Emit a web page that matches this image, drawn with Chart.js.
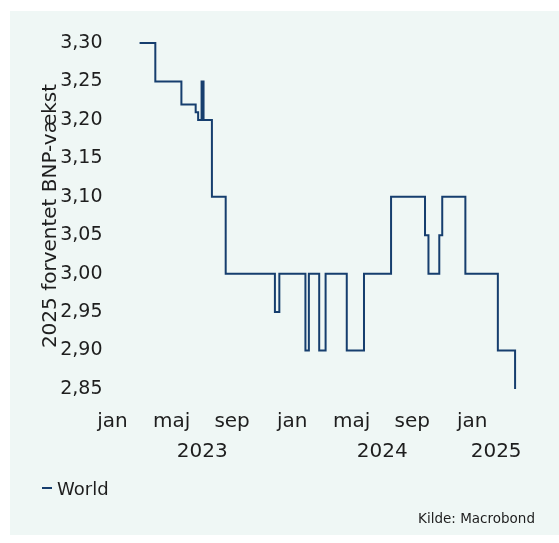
<!DOCTYPE html>
<html lang="da">
<head>
<meta charset="utf-8">
<title>2025 forventet BNP-vækst</title>
<script src="https://cdn.jsdelivr.net/npm/chart.js@4/dist/chart.umd.min.js"></script>
<style>
  html, body { margin: 0; padding: 0; background: #ffffff; }
  body { width: 559px; height: 543px; position: relative; overflow: hidden; font-family: "DejaVu Sans", sans-serif; color: #1e1e1e; }
  #panel { position: absolute; left: 10px; top: 11px; width: 549px; height: 524px; background: #eff7f5; }
  #wrap { position: absolute; left: 0; top: 0; width: 559px; height: 543px; }
  #legend { position: absolute; left: 42px; top: 477px; height: 22px; display: flex; align-items: center; font-size: 18px; }
  #legend .swatch { display: inline-block; width: 10px; height: 2px; margin-right: 5px; }
  #source { position: absolute; right: 24px; top: 509px; font-size: 13.5px; line-height: 18px; }
</style>
</head>
<body>
<div id="panel"></div>
<div id="wrap"><canvas id="chart" width="559" height="543"></canvas></div>
<div id="legend"></div>
<div id="source">Kilde: Macrobond</div>
<script>
// Dates on which the forecast changed, and the forecast from that date on (%)
const changeDates = [
  '2023-02-25', '2023-03-29', '2023-05-21', '2023-06-19', '2023-06-24',
  '2023-07-01', '2023-07-05', '2023-07-22', '2023-08-19', '2023-11-27',
  '2023-12-06', '2024-01-28', '2024-02-04', '2024-02-25', '2024-03-09',
  '2024-04-21', '2024-05-26', '2024-07-20', '2024-09-27', '2024-10-04',
  '2024-10-26', '2024-11-01', '2024-12-18', '2025-02-22', '2025-03-29'
];
const worldForecast = [
  3.30, 3.25, 3.22, 3.21, 3.20,
  3.25, 3.20, 3.10, 3.00, 2.95,
  3.00, 2.90, 3.00, 2.90, 3.00,
  2.90, 3.00, 3.10, 3.05, 3.00,
  3.05, 3.10, 3.00, 2.90, 2.85
];
const seriesName = 'World';

// Axis ticks
const yTicks = [2.85, 2.90, 2.95, 3.00, 3.05, 3.10, 3.15, 3.20, 3.25, 3.30];
const monthNames = ['jan', 'feb', 'mar', 'apr', 'maj', 'jun', 'jul', 'aug', 'sep', 'okt', 'nov', 'dec'];
const labelledMonths = [0, 4, 8];          // jan, maj, sep
const axisStart = '2023-01-01';
const axisEnd = '2025-04-08';

const lineColor = '#163e6e';
const textColor = '#1e1e1e';
const fontFamily = '"DejaVu Sans", sans-serif';

const toMs = s => Date.parse(s + 'T00:00:00Z');
const xMin = toMs(axisStart);
const xMax = toMs(axisEnd);

const points = changeDates.map((d, i) => ({ x: toMs(d), y: worldForecast[i] }));

// Month ticks every fourth month from January
function monthTicks() {
  const out = [];
  for (let y = new Date(xMin).getUTCFullYear(); y <= new Date(xMax).getUTCFullYear(); y++) {
    for (const m of labelledMonths) {
      const t = Date.UTC(y, m, 1);
      if (t >= xMin && t <= xMax) out.push({ value: t });
    }
  }
  return out;
}
// Year labels centred over the visible part of each year
function yearTicks() {
  const out = [];
  for (let y = new Date(xMin).getUTCFullYear(); y <= new Date(xMax).getUTCFullYear(); y++) {
    const a = Math.max(xMin, Date.UTC(y, 0, 1));
    const b = Math.min(xMax, Date.UTC(y + 1, 0, 1));
    out.push({ value: (a + b) / 2 });
  }
  return out;
}

const ctx = document.getElementById('chart');
new Chart(ctx, {
  type: 'line',
  data: {
    datasets: [{
      label: seriesName,
      data: points,
      borderColor: lineColor,
      backgroundColor: lineColor,
      borderWidth: 2,
      pointRadius: 0,
      pointHoverRadius: 0,
      stepped: true,
      fill: false,
      clip: false
    }]
  },
  options: {
    responsive: false,
    animation: false,
    events: [],
    layout: { padding: { left: 0, top: 43, right: 39, bottom: 68 } },
    plugins: {
      legend: { display: false },
      tooltip: { enabled: false },
      title: { display: false }
    },
    scales: {
      x: {
        type: 'linear',
        position: 'bottom',
        min: xMin,
        max: xMax,
        grid: { display: false, drawTicks: false },
        border: { display: false },
        afterBuildTicks: s => { s.ticks = monthTicks(); },
        afterFit: s => { s.height = 46; },
        ticks: {
          autoSkip: false,
          maxRotation: 0,
          padding: 21,
          color: textColor,
          font: { family: fontFamily, size: 20 },
          callback: v => monthNames[new Date(v).getUTCMonth()]
        }
      },
      x2: {
        type: 'linear',
        position: 'bottom',
        min: xMin,
        max: xMax,
        grid: { display: false, drawTicks: false },
        border: { display: false },
        afterBuildTicks: s => { s.ticks = yearTicks(); },
        afterFit: s => { s.height = 40; },
        ticks: {
          autoSkip: false,
          maxRotation: 0,
          padding: 5,
          color: textColor,
          font: { family: fontFamily, size: 20 },
          callback: v => String(new Date(v).getUTCFullYear())
        }
      },
      y: {
        type: 'linear',
        position: 'left',
        min: yTicks[0],
        max: yTicks[yTicks.length - 1],
        grid: { display: false, drawTicks: false },
        border: { display: false },
        afterBuildTicks: s => { s.ticks = yTicks.map(v => ({ value: v })); },
        afterFit: s => { s.width = 112.5; },
        ticks: {
          padding: 10,
          color: textColor,
          font: { family: fontFamily, size: 19 },
          callback: v => Number(v).toFixed(2).replace('.', ',')
        },
        title: {
          display: true,
          text: '2025 forventet BNP-vækst',
          color: textColor,
          font: { family: fontFamily, size: 20 },
          padding: { top: 39, bottom: 0 }
        }
      }
    }
  }
});

// Legend entry built from the series
const legend = document.getElementById('legend');
const sw = document.createElement('span');
sw.className = 'swatch';
sw.style.background = lineColor;
legend.appendChild(sw);
legend.appendChild(document.createTextNode(seriesName));
</script>
</body>
</html>
